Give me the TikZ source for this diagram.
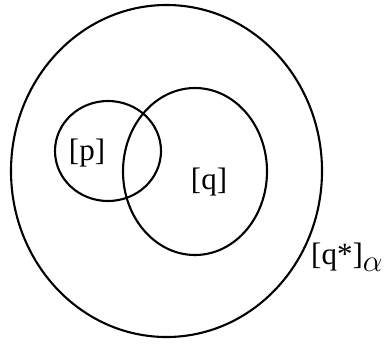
\documentclass[tikz,border=0pt]{standalone}
\usepackage{fontspec}
\setmainfont{Liberation Serif}
\begin{document}
\begin{tikzpicture}[x=1pt,y=-1pt,
  ring/.style={draw=black,line width=2.1pt},
  lab/.style={font=\fontsize{31}{35}\selectfont,inner sep=0pt}]
\useasboundingbox (0,0) rectangle (385,343);
\draw[ring] (166.5,171) ellipse [x radius=155.5, y radius=166];
\draw[ring] (108,151) ellipse [x radius=53, y radius=50];
\draw[ring] (195,171.5) ellipse [x radius=72, y radius=83.5];
\node[lab] (p) at (87,153) {[p]};
\node[lab] (q) at (209,182) {[q]};
\node[lab,anchor=west] (qs) at (311,257) {[q*]\raisebox{-7pt}{\scalebox{1.25}{$\alpha$}}};
\end{tikzpicture}
\end{document}
